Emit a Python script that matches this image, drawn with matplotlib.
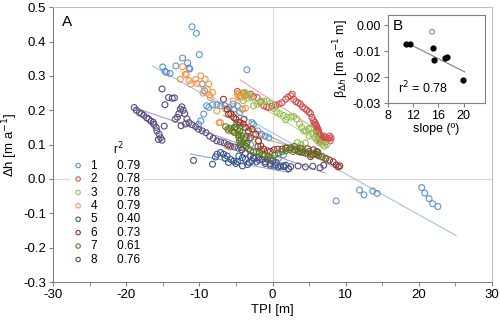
import matplotlib
matplotlib.use("Agg")
import matplotlib.pyplot as plt
import numpy as np

plt.rcParams['font.family'] = ['Liberation Sans', 'DejaVu Sans']
plt.rcParams['axes.unicode_minus'] = False

# ---- panel A data: TPI [m] vs dh [m/a], one list pair per transect ----
x1 = [-15.0, -14.7, -14.5, -14.0, -13.2, -12.3, -11.6, -11.4, -11.3, -11.0, -10.4, -10.0,
      -9.6, -9.3, -9.8, -10.1, -9.4, -9.0, -8.7, -8.2, -7.6, -7.1, -6.5, -5.9, -5.3, -4.8,
      -4.5, -4.1, -3.5, -5.4, -3.2, -2.8, -2.6, -2.0, -1.5, -1.0, -0.5, 0.2, 0.8, 1.5, 2.2,
      -3.0, -1.8, 8.7, 11.9, 12.5, 13.7, 14.3, 20.4, 20.8, 21.4, 21.9, 22.6]
y1 = [0.326, 0.313, 0.310, 0.307, 0.329, 0.352, 0.338, 0.323, 0.320, 0.443, 0.424, 0.362,
      0.277, 0.257, 0.169, 0.159, 0.189, 0.213, 0.208, 0.216, 0.216, 0.213, 0.213, 0.208, 0.203, 0.213,
      0.193, 0.203, 0.318, 0.218, 0.116, 0.164, 0.159, 0.140, 0.130, 0.125, 0.120, 0.038, 0.060, 0.070, 0.030,
      0.100, 0.080, -0.064, -0.032, -0.046, -0.035, -0.042, -0.025, -0.041, -0.057, -0.072, -0.080]

x2 = [-4.8, -4.4, -4.0, -3.6, -3.0, -2.6, -2.1, -1.6, -1.2, -0.8, -0.5, -0.1, 0.4, 0.9, 1.3,
      1.8, 2.1, 2.5, 2.7, 2.9, 3.2, 3.5, 3.8, 4.1, 4.4, 4.7, 5.0, 5.2, 5.4, 5.6, 5.8, 5.9,
      6.0, 6.1, 6.2, 6.3, 6.2, 6.4, 6.5, 6.6, 6.7, 6.8, 7.0, 7.2, 7.5, 7.7, 7.9, 8.0, 7.8,
      6.9, 7.3, 6.6, 5.7, 6.0, 6.3, 6.5]
y2 = [0.255, 0.242, 0.250, 0.245, 0.247, 0.240, 0.237, 0.225, 0.213, 0.210, 0.208, 0.212, 0.215, 0.218, 0.222,
      0.232, 0.238, 0.242, 0.247, 0.232, 0.225, 0.222, 0.218, 0.210, 0.205, 0.200, 0.195, 0.190, 0.179, 0.170, 0.165, 0.158,
      0.155, 0.150, 0.145, 0.140, 0.135, 0.130, 0.128, 0.125, 0.120, 0.118, 0.125, 0.120, 0.116, 0.118, 0.111, 0.120, 0.125,
      0.112, 0.108, 0.115, 0.160, 0.140, 0.120, 0.110]

x3 = [-4.6, -4.2, -3.7, -3.3, -2.8, -2.6, -2.1, -1.7, -1.2, -0.7, -0.3, 0.2, 0.6, 1.0, 1.5,
      2.0, 2.5, 2.9, 3.3, 3.7, 4.0, 4.3, 4.6, 4.9, 5.2, 5.5, 5.8, 6.1, 6.4, 6.8, 7.1, 7.4,
      6.0, 5.0, 3.4, 3.9, 4.5, -4.0, -3.5, 1.8]
y3 = [0.240, 0.250, 0.252, 0.245, 0.237, 0.213, 0.218, 0.222, 0.227, 0.227, 0.220, 0.205, 0.195, 0.190, 0.185,
      0.180, 0.180, 0.182, 0.175, 0.160, 0.150, 0.140, 0.140, 0.145, 0.148, 0.130, 0.120, 0.112, 0.106, 0.101, 0.095, 0.100,
      0.130, 0.125, 0.106, 0.100, 0.105, 0.228, 0.235, 0.172]

x4 = [-12.6, -12.3, -11.9, -11.8, -11.4, -11.2, -10.5, -10.3, -9.8, -9.5, -9.2, -8.9, -8.7,
      -8.5, -8.2, -8.6, -7.6, -7.3, -7.1, -6.4, -6.0, -5.5, -5.4, -5.05, -5.8, -6.2, -4.8,
      -4.4, -4.1, -3.7, -3.2, -2.6, -1.6, -1.2, -2.0, -3.8, -4.6]
y4 = [0.290, 0.327, 0.305, 0.303, 0.286, 0.276, 0.290, 0.278, 0.300, 0.250, 0.290, 0.261, 0.276,
      0.237, 0.252, 0.245, 0.198, 0.164, 0.164, 0.203, 0.140, 0.184, 0.227, 0.135, 0.093, 0.096, 0.247,
      0.235, 0.203, 0.206, 0.150, 0.130, 0.087, 0.070, 0.110, 0.240, 0.250]

x5 = [-10.8, -8.2, -7.8, -7.6, -7.1, -6.7, -6.2, -5.7, -6.0, -5.3, -4.6, -4.1, -3.7, -3.2,
      -4.1, -2.6, -1.9, -1.4, -0.7, 0.0, 0.5, 1.1, 1.5, 1.8, 2.2, -5.0, -3.4, -2.2, -1.0,
      -0.3, 0.8, -2.8, -6.5, -4.8]
y5 = [0.054, 0.043, 0.064, 0.072, 0.077, 0.072, 0.067, 0.057, 0.048, 0.052, 0.067, 0.062, 0.057, 0.048,
      0.038, 0.062, 0.062, 0.057, 0.057, 0.052, 0.048, 0.038, 0.036, 0.040, 0.030, 0.045, 0.042, 0.050, 0.045,
      0.040, 0.035, 0.052, 0.060, 0.050]

x6 = [-6.7, -6.2, -6.0, -5.7, -5.3, -5.0, -4.6, -4.4, -4.0, -3.7, -3.3, -3.0, -2.8, -2.3, -1.9,
      -1.6, -1.2, -0.7, -0.3, 0.2, 0.7, 1.3, 1.8, 2.5, 3.0, 3.5, 4.0, 4.5, 5.0, 5.5, 5.9, 6.3,
      6.8, 7.3, 7.8, 8.3, 8.7, 9.0, 9.2, -3.9, -2.0, 3.8, 5.2, 6.0, -5.2, -3.6, 4.8, 5.6, 6.2]
y6 = [0.232, 0.203, 0.189, 0.189, 0.179, 0.174, 0.165, 0.164, 0.160, 0.150, 0.140, 0.120, 0.145, 0.130, 0.111,
      0.096, 0.087, 0.082, 0.080, 0.085, 0.087, 0.087, 0.090, 0.091, 0.085, 0.080, 0.078, 0.075, 0.080, 0.072, 0.072, 0.068,
      0.065, 0.060, 0.055, 0.050, 0.041, 0.035, 0.038, 0.174, 0.095, 0.090, 0.065, 0.080, 0.150, 0.120, 0.088, 0.085, 0.078]

x7 = [-6.4, -6.1, -5.8, -5.5, -5.2, -5.0, -4.8, -4.7, -4.6, -4.5, -4.4, -4.3, -4.5, -4.2, -4.0,
      -3.8, -3.6, -3.3, -3.0, -2.6, -2.2, -1.8, -1.4, -1.0, -0.6, -0.2, 0.3, 0.8, 1.3, 1.8,
      2.3, 2.8, 3.3, 3.8, 4.3, 4.8, 5.3, 5.8, 6.3, 6.8, 7.3, -4.9, -4.1, -3.9, -0.3, 2.0,
      3.0, 4.0, -4.6, -4.3, -3.5]
y7 = [0.152, 0.145, 0.148, 0.140, 0.135, 0.150, 0.145, 0.130, 0.120, 0.110, 0.100, 0.092, 0.140, 0.125, 0.105,
      0.098, 0.095, 0.088, 0.082, 0.078, 0.080, 0.075, 0.070, 0.068, 0.065, 0.060, 0.070, 0.075, 0.080, 0.082,
      0.085, 0.080, 0.085, 0.078, 0.080, 0.075, 0.070, 0.075, 0.070, 0.065, 0.060, 0.160, 0.135, 0.115, 0.055, 0.090,
      0.095, 0.088, 0.128, 0.112, 0.105]

x8 = [-18.9, -18.6, -18.2, -17.9, -17.6, -17.2, -16.9, -16.6, -16.2, -15.9, -15.8, -15.5, -15.3,
      -15.1, -15.6, -16.3, -15.1, -14.7, -14.2, -13.7, -13.4, -14.8, -13.3, -13.0, -12.8, -12.6,
      -12.4, -12.2, -12.0, -11.7, -11.4, -11.0, -10.5, -10.1, -9.6, -9.1, -8.6, -8.1, -7.6, -7.1,
      -6.6, -6.1, -5.7, -5.2, -4.7, -4.2, -3.7, -3.0, -2.5, -1.8, -1.0, -0.3, 0.5, 1.5, 2.5,
      3.5, 4.5, 5.5, 6.5, 7.0, -12.5, -11.9]
y8 = [0.208, 0.200, 0.193, 0.190, 0.185, 0.178, 0.174, 0.168, 0.159, 0.150, 0.140, 0.130, 0.120,
      0.113, 0.115, 0.165, 0.262, 0.216, 0.237, 0.235, 0.236, 0.154, 0.174, 0.180, 0.190, 0.203,
      0.210, 0.200, 0.190, 0.175, 0.164, 0.158, 0.152, 0.145, 0.140, 0.135, 0.125, 0.118, 0.111, 0.108,
      0.105, 0.100, 0.096, 0.093, 0.090, 0.085, 0.075, 0.068, 0.060, 0.055, 0.050, 0.045, 0.040, 0.038, 0.036,
      0.038, 0.035, 0.037, 0.033, 0.040, 0.155, 0.160]

names = ["1", "2", "3", "4", "5", "6", "7", "8"]
r2 = ["0.79", "0.78", "0.78", "0.79", "0.40", "0.73", "0.61", "0.76"]
# linear trends per transect: slope, intercept, x start, x end
fit_slope = [-0.0119, -0.0139, -0.0130, -0.0170, -0.0040, -0.0097, -0.0060, -0.0073]
fit_icpt = [0.134, 0.227, 0.190, 0.100, 0.028, 0.120, 0.110, 0.070]
fit_x0 = [-16.4, -4.4, -4.6, -12.6, -11.2, -6.7, -6.5, -18.9]
fit_x1 = [25.1, 7.6, 7.6, -1.2, 2.2, 9.2, 7.5, 7.2]

# ---- panel B data: slope (deg) vs beta ----
b_slope = [10.9, 11.5, 15.1, 15.3, 17.1, 17.4, 19.9]
b_beta = [-0.0071, -0.0073, -0.0086, -0.0133, -0.0128, -0.0121, -0.0210]
b_out_slope = [15.0]
b_out_beta = [-0.0025]
b_fit = (-0.00122, 0.00664, 12.0, 20.2)

colors = ['#5B93D3', '#D0504F', '#96C052', '#F79646', '#34578E', '#933634', '#5E7D26', '#5B4A7E']
line_colors = ['#9DC3E6', '#EBA3A0', '#C3DBA0', '#F8C49C', '#95A7C4', '#C59594', '#A7B88A', '#A79FBE']

xs = [x1, x2, x3, x4, x5, x6, x7, x8]
ys = [y1, y2, y3, y4, y5, y6, y7, y8]

fig = plt.figure(figsize=(5, 3.25), dpi=100)
ax = fig.add_axes([0.106, 0.132, 0.878, 0.846])

ax.axhline(0, color='#D9D9D9', lw=0.8, zorder=0)
ax.axvline(0, color='#D9D9D9', lw=0.8, zorder=0)

handles = []
for i in range(8):
    h = ax.scatter(xs[i], ys[i], s=18, facecolors='none', edgecolors=colors[i], linewidths=0.8, zorder=2)
    handles.append(h)
    fx = np.array([fit_x0[i], fit_x1[i]])
    ax.plot(fx, fit_slope[i] * fx + fit_icpt[i], color=line_colors[i], lw=0.8, zorder=1)

ax.set_xlim(-30, 30)
ax.set_ylim(-0.3, 0.5)
ax.set_xticks(np.arange(-30, 31, 10))
ax.set_xticks(np.arange(-30, 31, 5), minor=True)
ax.set_yticks(np.arange(-0.3, 0.51, 0.1))
ax.set_yticklabels([f"{v:.1f}" for v in np.arange(-0.3, 0.51, 0.1)])
ax.tick_params(axis='both', which='both', direction='out', length=3, color='#808080',
               labelsize=9.5, pad=2)
ax.tick_params(axis='x', which='minor', labelbottom=False)
for s in ['left', 'bottom']:
    ax.spines[s].set_color('#808080')
for s in ['top', 'right']:
    ax.spines[s].set_color('#BFBFBF')
ax.set_xlabel("TPI [m]", fontsize=9.5, labelpad=2)
ax.set_ylabel("Δh [m a$^{-1}$]", fontsize=9.5, labelpad=2)
ax.text(0.02, 0.97, "A", transform=ax.transAxes, fontsize=11, va='top', ha='left')

labels = [f"{n}      {r}" for n, r in zip(names, r2)]
leg = ax.legend(handles, labels, loc='lower left', bbox_to_anchor=(0.025, 0.03),
                fontsize=8.5, frameon=True, framealpha=1, edgecolor='none',
                handlelength=1.0, handletextpad=0.6, labelspacing=0.12,
                borderpad=0.2, markerscale=0.75)
ax.text(0.148, 0.485, "r$^2$", transform=ax.transAxes, fontsize=8.5, ha='center', va='center')

# ---- inset B ----
axb = fig.add_axes([0.776, 0.683, 0.194, 0.271])
axb.scatter(b_slope, b_beta, s=12, color='black', zorder=3)
axb.scatter(b_out_slope, b_out_beta, s=12, facecolors='none', edgecolors='#8C8C8C', linewidths=0.8, zorder=3)
bx = np.array([b_fit[2], b_fit[3]])
axb.plot(bx, b_fit[0] * bx + b_fit[1], color='#7F7F7F', lw=0.8)
axb.set_xlim(8, 23.4)
axb.set_ylim(-0.03, 0.004)
axb.set_xticks([8, 12, 16, 20])
axb.set_yticks([-0.03, -0.02, -0.01, 0.0])
axb.set_yticklabels(["-0.03", "-0.02", "-0.01", "0.00"])
axb.tick_params(direction='out', length=3, color='#808080', labelsize=9, pad=2)
for s in axb.spines.values():
    s.set_color('#808080')
axb.set_xlabel("slope (º)", fontsize=9, labelpad=1)
axb.set_ylabel("β$_{Δh}$ [m a$^{-1}$ m]", fontsize=9, labelpad=1)
axb.text(0.05, 0.95, "B", transform=axb.transAxes, fontsize=11, va='top', ha='left')
axb.text(0.1, 0.08, "r$^2$ = 0.78", transform=axb.transAxes, fontsize=9, va='bottom', ha='left')

fig.savefig("out.png", dpi=100)
